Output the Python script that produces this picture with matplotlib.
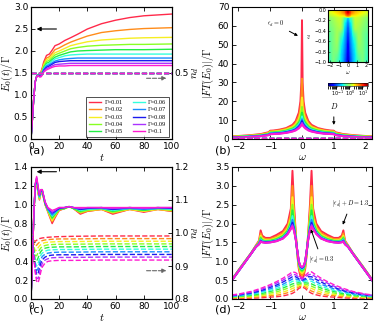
import numpy as np
import matplotlib
matplotlib.use('Agg')
import matplotlib.pyplot as plt
from matplotlib.colors import LogNorm

plt.rcParams['mathtext.fontset'] = 'cm'
plt.rcParams['font.size'] = 6.5

gammas = [0.01, 0.02, 0.03, 0.04, 0.05, 0.06, 0.07, 0.08, 0.09, 0.1]
colors = ['#ff2a4a', '#ff8c1a', '#f6ee22', '#88ff22', '#22ee44',
          '#33ffdd', '#1a8cff', '#1a1aee', '#aa33ff', '#ff1ad0']

# (a) E0(t)/Gamma, eps_d = 0
t_a = [0, 1, 2, 3, 4, 5, 6, 7, 8, 9, 11, 13, 15, 17, 20, 24, 28, 33, 40, 50, 60, 70, 80, 100]
e0_a = [
    [0, 0.45, 0.95, 1.30, 1.42, 1.46, 1.48, 1.52, 1.62, 1.75, 1.90, 1.93, 2.02, 2.12, 2.16, 2.24, 2.30, 2.38, 2.50, 2.62, 2.70, 2.76, 2.80, 2.84],
    [0, 0.45, 0.95, 1.30, 1.42, 1.46, 1.47, 1.50, 1.59, 1.71, 1.84, 1.87, 1.95, 2.03, 2.07, 2.14, 2.20, 2.26, 2.34, 2.42, 2.46, 2.49, 2.51, 2.53],
    [0, 0.45, 0.95, 1.30, 1.42, 1.46, 1.47, 1.49, 1.57, 1.68, 1.80, 1.83, 1.90, 1.96, 2.00, 2.06, 2.12, 2.16, 2.21, 2.25, 2.27, 2.29, 2.30, 2.31],
    [0, 0.45, 0.95, 1.30, 1.42, 1.46, 1.46, 1.48, 1.55, 1.65, 1.76, 1.79, 1.85, 1.91, 1.95, 2.00, 2.05, 2.08, 2.11, 2.13, 2.14, 2.15, 2.15, 2.16],
    [0, 0.45, 0.95, 1.30, 1.42, 1.46, 1.45, 1.47, 1.53, 1.62, 1.72, 1.75, 1.81, 1.86, 1.90, 1.94, 1.98, 2.00, 2.01, 2.02, 2.03, 2.03, 2.03, 2.04],
    [0, 0.45, 0.95, 1.30, 1.42, 1.45, 1.45, 1.46, 1.52, 1.60, 1.69, 1.72, 1.77, 1.82, 1.85, 1.89, 1.91, 1.92, 1.93, 1.93, 1.93, 1.93, 1.93, 1.93],
    [0, 0.45, 0.95, 1.30, 1.42, 1.45, 1.44, 1.45, 1.50, 1.58, 1.66, 1.69, 1.73, 1.77, 1.80, 1.82, 1.83, 1.84, 1.84, 1.84, 1.84, 1.84, 1.84, 1.84],
    [0, 0.45, 0.95, 1.30, 1.42, 1.45, 1.43, 1.44, 1.49, 1.56, 1.63, 1.66, 1.70, 1.74, 1.76, 1.77, 1.78, 1.78, 1.78, 1.78, 1.78, 1.78, 1.78, 1.78],
    [0, 0.45, 0.95, 1.30, 1.42, 1.44, 1.42, 1.43, 1.47, 1.54, 1.60, 1.63, 1.66, 1.69, 1.70, 1.71, 1.72, 1.72, 1.72, 1.72, 1.72, 1.72, 1.72, 1.72],
    [0, 0.45, 0.95, 1.30, 1.42, 1.44, 1.41, 1.41, 1.45, 1.52, 1.57, 1.60, 1.63, 1.65, 1.66, 1.66, 1.67, 1.67, 1.67, 1.67, 1.67, 1.67, 1.67, 1.67],
]
nd_a = 0.5

# (b) |FT(E0)|/Gamma, positive omega side (spectrum is symmetric)
w_b = [0, 0.02, 0.05, 0.1, 0.2, 0.3, 0.5, 0.7, 0.9, 1.0, 1.05, 1.3, 1.7, 2.2]
ft_b = [
    [63, 30, 20, 14, 9.5, 7.5, 5.8, 5.0, 4.5, 4.4, 3.6, 2.6, 1.9, 1.4],
    [32, 22, 16, 12, 8.5, 6.8, 5.4, 4.6, 4.2, 4.1, 3.3, 2.4, 1.8, 1.3],
    [22, 17, 13.5, 10.5, 7.7, 6.3, 5.0, 4.3, 3.9, 3.8, 3.0, 2.2, 1.6, 1.2],
    [17, 14, 11.5, 9.4, 7.0, 5.8, 4.6, 4.0, 3.6, 3.5, 2.8, 2.0, 1.5, 1.1],
    [14, 12, 10, 8.5, 6.4, 5.3, 4.3, 3.7, 3.4, 3.3, 2.6, 1.9, 1.4, 1.0],
    [12, 10.5, 9.0, 7.7, 5.9, 5.0, 4.0, 3.4, 3.2, 3.1, 2.4, 1.8, 1.3, 0.95],
    [10.5, 9.3, 8.2, 7.0, 5.4, 4.6, 3.7, 3.2, 3.0, 2.9, 2.3, 1.7, 1.2, 0.9],
    [9.5, 8.5, 7.5, 6.5, 5.0, 4.3, 3.5, 3.0, 2.8, 2.7, 2.2, 1.6, 1.1, 0.8],
    [8.5, 7.8, 7.0, 6.0, 4.7, 4.1, 3.3, 2.9, 2.7, 2.6, 2.1, 1.5, 1.05, 0.75],
    [7.7, 7.2, 6.5, 5.6, 4.5, 3.9, 3.2, 2.8, 2.6, 2.5, 2.0, 1.4, 1.0, 0.7],
]
ftnd_b = 0.3

# inset of (b): log10 |FT(E0)|, rows eps_d = 0 .. -1, columns omega = -2 .. 2
w_in = [-2.0, -1.6, -1.2, -0.8, -0.4, 0, 0.4, 0.8, 1.2, 1.6, 2.0]
eps_in = [-0.05, -0.15, -0.25, -0.35, -0.45, -0.55, -0.65, -0.75, -0.85, -0.95]
heat_log = [
    [0.2, 0.3, 0.4, 0.5, 0.7, 1.2, 0.7, 0.5, 0.4, 0.3, 0.2],
    [-0.1, 0.0, 0.1, 0.15, -0.3, -0.8, -0.3, 0.15, 0.1, 0.0, -0.1],
    [-0.15, -0.05, 0.05, 0.1, -0.5, -1.0, -0.5, 0.1, 0.05, -0.05, -0.15],
    [-0.2, -0.1, 0.0, 0.05, -0.6, -1.15, -0.6, 0.05, 0.0, -0.1, -0.2],
    [-0.25, -0.15, 0.0, -0.2, -0.7, -1.25, -0.7, -0.2, 0.0, -0.15, -0.25],
    [-0.3, -0.15, 0.0, -0.4, -0.75, -1.35, -0.75, -0.4, 0.0, -0.15, -0.3],
    [-0.3, -0.15, -0.05, -0.5, -0.8, -1.45, -0.8, -0.5, -0.05, -0.15, -0.3],
    [-0.35, -0.15, -0.1, -0.55, -0.85, -1.5, -0.85, -0.55, -0.1, -0.15, -0.35],
    [-0.35, -0.15, -0.2, -0.6, -0.9, -1.55, -0.9, -0.6, -0.2, -0.15, -0.35],
    [-0.4, -0.15, -0.3, -0.6, -0.95, -1.6, -0.95, -0.6, -0.3, -0.15, -0.4],
]

# (c) E0(t)/Gamma and n_d(t), eps_d = -0.3
t_c = [0, 1, 2, 3, 4, 5, 6, 7, 8, 10, 12, 14, 15, 17, 20, 24, 27, 30, 35, 40, 50, 58, 70, 80, 90, 100]
e0_c = [
    [0, 0.40, 0.90, 1.18, 1.22, 1.12, 1.05, 1.12, 1.13, 1.00, 0.92, 0.84, 0.80, 0.86, 0.94, 0.96, 0.98, 0.96, 0.90, 0.93, 0.95, 0.90, 0.95, 0.92, 0.95, 0.93],
    [0, 0.40, 0.90, 1.18, 1.23, 1.13, 1.06, 1.12, 1.13, 1.00, 0.93, 0.85, 0.82, 0.87, 0.94, 0.96, 0.98, 0.96, 0.91, 0.93, 0.95, 0.91, 0.95, 0.93, 0.95, 0.93],
    [0, 0.40, 0.90, 1.19, 1.24, 1.14, 1.06, 1.13, 1.14, 1.01, 0.93, 0.86, 0.83, 0.88, 0.95, 0.96, 0.98, 0.96, 0.92, 0.94, 0.95, 0.92, 0.95, 0.93, 0.95, 0.94],
    [0, 0.40, 0.90, 1.19, 1.25, 1.15, 1.07, 1.13, 1.14, 1.01, 0.94, 0.88, 0.85, 0.89, 0.95, 0.96, 0.98, 0.96, 0.92, 0.94, 0.96, 0.92, 0.96, 0.94, 0.96, 0.94],
    [0, 0.40, 0.90, 1.20, 1.26, 1.16, 1.08, 1.14, 1.14, 1.01, 0.94, 0.89, 0.86, 0.90, 0.95, 0.96, 0.98, 0.96, 0.93, 0.95, 0.96, 0.93, 0.96, 0.94, 0.96, 0.95],
    [0, 0.40, 0.90, 1.20, 1.26, 1.16, 1.08, 1.14, 1.15, 1.02, 0.95, 0.90, 0.88, 0.91, 0.96, 0.97, 0.98, 0.97, 0.94, 0.95, 0.96, 0.94, 0.96, 0.95, 0.96, 0.95],
    [0, 0.40, 0.90, 1.21, 1.27, 1.17, 1.09, 1.15, 1.15, 1.02, 0.95, 0.91, 0.89, 0.92, 0.96, 0.97, 0.98, 0.97, 0.95, 0.96, 0.96, 0.95, 0.96, 0.95, 0.96, 0.96],
    [0, 0.40, 0.90, 1.21, 1.28, 1.18, 1.10, 1.15, 1.15, 1.02, 0.96, 0.93, 0.91, 0.93, 0.96, 0.97, 0.98, 0.97, 0.95, 0.96, 0.97, 0.95, 0.97, 0.96, 0.97, 0.96],
    [0, 0.40, 0.90, 1.22, 1.29, 1.19, 1.10, 1.16, 1.16, 1.03, 0.96, 0.94, 0.92, 0.94, 0.97, 0.97, 0.98, 0.97, 0.96, 0.97, 0.97, 0.96, 0.97, 0.96, 0.97, 0.97],
    [0, 0.40, 0.90, 1.22, 1.30, 1.20, 1.11, 1.16, 1.16, 1.03, 0.97, 0.95, 0.94, 0.95, 0.97, 0.97, 0.98, 0.97, 0.97, 0.97, 0.97, 0.97, 0.97, 0.97, 0.97, 0.97],
]
t_nd = [0, 1, 2, 3, 4, 5, 6, 7, 8, 10, 12, 15, 20, 30, 50, 100]
nd_c = [
    [1.000, 0.990, 0.976, 0.975, 0.978, 0.981, 0.983, 0.984, 0.985, 0.986, 0.987, 0.988, 0.989, 0.990, 0.991, 0.991],
    [1.000, 0.988, 0.968, 0.960, 0.963, 0.968, 0.972, 0.975, 0.977, 0.979, 0.980, 0.981, 0.982, 0.982, 0.983, 0.983],
    [1.000, 0.986, 0.960, 0.946, 0.948, 0.955, 0.961, 0.965, 0.968, 0.971, 0.972, 0.973, 0.974, 0.974, 0.975, 0.975],
    [1.000, 0.985, 0.953, 0.932, 0.931, 0.940, 0.949, 0.955, 0.959, 0.962, 0.964, 0.965, 0.966, 0.966, 0.967, 0.967],
    [1.000, 0.984, 0.947, 0.920, 0.915, 0.924, 0.936, 0.944, 0.949, 0.954, 0.956, 0.957, 0.958, 0.958, 0.959, 0.959],
    [1.000, 0.983, 0.942, 0.910, 0.900, 0.908, 0.922, 0.933, 0.939, 0.945, 0.948, 0.949, 0.950, 0.950, 0.951, 0.951],
    [1.000, 0.982, 0.938, 0.901, 0.886, 0.892, 0.908, 0.921, 0.929, 0.936, 0.939, 0.941, 0.942, 0.942, 0.943, 0.943],
    [1.000, 0.981, 0.934, 0.893, 0.874, 0.877, 0.893, 0.909, 0.919, 0.927, 0.931, 0.933, 0.934, 0.934, 0.935, 0.935],
    [1.000, 0.980, 0.931, 0.886, 0.863, 0.862, 0.878, 0.896, 0.908, 0.918, 0.922, 0.925, 0.926, 0.926, 0.927, 0.927],
    [1.000, 0.979, 0.928, 0.880, 0.854, 0.849, 0.863, 0.883, 0.897, 0.909, 0.914, 0.916, 0.917, 0.917, 0.918, 0.918],
]

# (d) |FT(E0)|/Gamma and |FT(n_d)|, positive omega side
w_d = [0, 0.05, 0.1, 0.15, 0.2, 0.25, 0.3, 0.35, 0.45, 0.6, 0.8, 1.0, 1.15, 1.25, 1.3, 1.35, 1.45, 1.6, 1.9, 2.2]
ft_d = [
    [0.55, 0.60, 0.80, 1.20, 1.80, 2.50, 3.40, 2.40, 2.00, 1.80, 1.70, 1.62, 1.62, 1.68, 1.82, 1.55, 1.42, 1.22, 0.88, 0.52],
    [0.63, 0.68, 0.85, 1.23, 1.75, 2.31, 3.00, 2.25, 1.92, 1.75, 1.65, 1.59, 1.59, 1.63, 1.74, 1.52, 1.41, 1.21, 0.87, 0.51],
    [0.69, 0.73, 0.89, 1.25, 1.71, 2.17, 2.70, 2.14, 1.87, 1.71, 1.62, 1.56, 1.56, 1.60, 1.68, 1.50, 1.40, 1.21, 0.87, 0.51],
    [0.73, 0.77, 0.92, 1.26, 1.68, 2.07, 2.50, 2.07, 1.83, 1.68, 1.60, 1.55, 1.54, 1.57, 1.64, 1.49, 1.40, 1.21, 0.86, 0.51],
    [0.76, 0.80, 0.94, 1.27, 1.66, 2.00, 2.35, 2.01, 1.80, 1.66, 1.58, 1.54, 1.53, 1.55, 1.61, 1.48, 1.39, 1.21, 0.86, 0.51],
    [0.79, 0.83, 0.96, 1.28, 1.64, 1.93, 2.20, 1.96, 1.77, 1.64, 1.56, 1.52, 1.52, 1.53, 1.58, 1.47, 1.39, 1.20, 0.86, 0.50],
    [0.81, 0.85, 0.98, 1.29, 1.62, 1.88, 2.10, 1.92, 1.75, 1.62, 1.55, 1.51, 1.51, 1.52, 1.56, 1.46, 1.38, 1.20, 0.85, 0.50],
    [0.83, 0.86, 0.99, 1.29, 1.61, 1.85, 2.02, 1.89, 1.74, 1.61, 1.54, 1.51, 1.50, 1.51, 1.54, 1.46, 1.38, 1.20, 0.85, 0.50],
    [0.84, 0.87, 0.99, 1.30, 1.61, 1.82, 1.96, 1.87, 1.73, 1.61, 1.54, 1.50, 1.49, 1.51, 1.53, 1.45, 1.38, 1.20, 0.85, 0.50],
    [0.85, 0.88, 1.00, 1.30, 1.60, 1.80, 1.92, 1.85, 1.72, 1.60, 1.53, 1.50, 1.49, 1.50, 1.52, 1.45, 1.38, 1.20, 0.85, 0.50],
]
w_dn = [0, 0.1, 0.2, 0.3, 0.4, 0.6, 0.8, 1.0, 1.3, 1.6, 2.0, 2.2]
ftnd_d = [
    [0.32, 0.28, 0.20, 0.15, 0.12, 0.08, 0.06, 0.05, 0.03, 0.02, 0.02, 0.02],
    [0.35, 0.32, 0.26, 0.21, 0.18, 0.13, 0.10, 0.09, 0.06, 0.04, 0.03, 0.03],
    [0.37, 0.36, 0.31, 0.28, 0.24, 0.18, 0.15, 0.12, 0.09, 0.06, 0.04, 0.04],
    [0.40, 0.39, 0.37, 0.34, 0.30, 0.24, 0.19, 0.16, 0.11, 0.08, 0.06, 0.05],
    [0.42, 0.43, 0.42, 0.40, 0.36, 0.29, 0.24, 0.20, 0.14, 0.10, 0.07, 0.06],
    [0.45, 0.47, 0.48, 0.47, 0.42, 0.34, 0.28, 0.23, 0.17, 0.12, 0.08, 0.07],
    [0.47, 0.51, 0.53, 0.53, 0.48, 0.39, 0.33, 0.27, 0.20, 0.14, 0.09, 0.08],
    [0.50, 0.54, 0.59, 0.59, 0.54, 0.45, 0.37, 0.31, 0.22, 0.16, 0.11, 0.09],
    [0.52, 0.58, 0.64, 0.66, 0.60, 0.50, 0.42, 0.34, 0.25, 0.18, 0.12, 0.10],
    [0.55, 0.62, 0.70, 0.72, 0.66, 0.55, 0.46, 0.38, 0.28, 0.20, 0.13, 0.11],
]


def mirror(w, v):
    # spectra were read for omega >= 0 only, they are symmetric in omega
    w = np.asarray(w)
    v = np.asarray(v)
    return np.r_[-w[:0:-1], w], np.r_[v[:0:-1], v]


def style(ax, right=True):
    ax.tick_params(direction='in', top=True, right=right, length=3, width=0.6,
                   labelsize=6.5, pad=2)
    for s in ax.spines.values():
        s.set_linewidth(0.8)


fig = plt.figure(figsize=(3.74, 3.25), dpi=100)
W, H = 374.0, 325.0
ax_a = fig.add_axes([31 / W, 1 - 139 / H, 141 / W, 132 / H])
ax_b = fig.add_axes([232 / W, 1 - 139 / H, 140 / W, 132 / H])
ax_c = fig.add_axes([31 / W, 1 - 299 / H, 141 / W, 132 / H])
ax_d = fig.add_axes([232 / W, 1 - 299 / H, 140 / W, 132 / H])

# ---- (a)
for g, c, y in zip(gammas, colors, e0_a):
    ax_a.plot(t_a, y, color=c, lw=1.0, label='\u0393=%g' % g)
ax_a.set_xlim(0, 100)
ax_a.set_ylim(0, 3)
ax_a.set_xticks([0, 20, 40, 60, 80, 100])
ax_a.set_yticks(np.arange(0, 3.01, 0.5))
ax_a.set_xlabel(r'$t$', fontsize=8, labelpad=1)
ax_a.set_ylabel(r'$E_0(t)/\Gamma$', fontsize=7.5)
ax_a.yaxis.set_label_coords(-0.115, 0.5)
style(ax_a, right=False)
ax_a.annotate('', xy=(2, 2.5), xytext=(20, 2.5),
              arrowprops=dict(arrowstyle='-|>', color='k', lw=0.8, mutation_scale=6))
ax_a.annotate('', xy=(98, 1.38), xytext=(80, 1.38),
              arrowprops=dict(arrowstyle='-|>', color='0.4', lw=0.8, ls='--', mutation_scale=6))
leg = ax_a.legend(ncol=2, loc='lower right', bbox_to_anchor=(0.98, 0.015),
                  prop={'family': 'Liberation Serif', 'size': 4.5},
                  borderaxespad=0, frameon=True, fancybox=False, edgecolor='k',
                  handlelength=2.0, handletextpad=0.5, columnspacing=1.6,
                  labelspacing=0.3, borderpad=0.45)
leg.get_frame().set_linewidth(0.6)
tw_a = ax_a.twinx()
for c in colors:
    tw_a.plot([0, 100], [nd_a, nd_a], color=c, lw=1.0, ls='--')
tw_a.set_ylim(0, 1)
tw_a.set_yticks([0.5])
tw_a.tick_params(direction='in', length=3, width=0.6, labelsize=6.5, pad=2)
tw_a.set_ylabel(r'$n_d$', fontsize=8)
tw_a.yaxis.set_label_coords(1.13, 0.5)

# ---- (b)
for c, y in zip(colors, ft_b):
    w, v = mirror(w_b, y)
    ax_b.plot(w, v, color=c, lw=1.4)
for c in colors:
    ax_b.plot([-2.2, 2.2], [ftnd_b, ftnd_b], color=c, lw=1.0, ls='--')
ax_b.set_xlim(-2.2, 2.2)
ax_b.set_ylim(0, 70)
ax_b.set_xticks([-2, -1, 0, 1, 2])
ax_b.set_yticks(range(0, 71, 10))
ax_b.set_xlabel(r'$\omega$', fontsize=8, labelpad=1)
ax_b.set_ylabel(r'$|FT(E_0)|/\Gamma$', fontsize=7.5)
ax_b.yaxis.set_label_coords(-0.115, 0.5)
style(ax_b)
ax_b.annotate(r'$\epsilon_d=0$', xy=(-0.05, 54), xytext=(-1.1, 60), fontsize=4.5,
              arrowprops=dict(arrowstyle='-|>', color='k', lw=0.7, mutation_scale=4))
ax_b.annotate(r'$D$', xy=(1.0, 6), xytext=(1.0, 20), fontsize=5.5, ha='center', va='top',
              arrowprops=dict(arrowstyle='-|>', color='k', lw=0.7, mutation_scale=4))

ax_in = fig.add_axes([328 / W, 1 - 62 / H, 40 / W, 52 / H])
im = ax_in.imshow(10 ** np.array(heat_log), extent=[-2.2, 2.2, -1, 0], aspect='auto',
                  cmap='jet', norm=LogNorm(vmin=0.02, vmax=25), interpolation='bilinear')
ax_in.set_xticks([-2, -1, 0, 1, 2])
ax_in.set_yticks([0, -0.2, -0.4, -0.6, -0.8, -1.0])
ax_in.tick_params(direction='in', labelsize=3.5, length=1.5, width=0.4, pad=1)
ax_in.set_xlabel(r'$\omega$', fontsize=4, labelpad=0.5)
ax_in.set_ylabel(r'$\epsilon_d$', fontsize=4, labelpad=0.5)
cax = fig.add_axes([328 / W, 1 - 86 / H, 40 / W, 3 / H])
cb = fig.colorbar(im, cax=cax, orientation='horizontal', ticks=[0.1, 1, 10])
cb.ax.tick_params(labelsize=3.5, length=1, width=0.4, pad=1)
cb.outline.set_linewidth(0.4)

# ---- (c)
for c, y in zip(colors, e0_c):
    ax_c.plot(t_c, y, color=c, lw=1.0)
ax_c.set_xlim(0, 100)
ax_c.set_ylim(0, 1.4)
ax_c.set_xticks([0, 20, 40, 60, 80, 100])
ax_c.set_yticks(np.arange(0, 1.41, 0.2))
ax_c.set_xlabel(r'$t$', fontsize=8, labelpad=1)
ax_c.set_ylabel(r'$E_0(t)/\Gamma$', fontsize=7.5)
ax_c.yaxis.set_label_coords(-0.115, 0.5)
style(ax_c, right=False)
ax_c.annotate('', xy=(2, 1.35), xytext=(20, 1.35),
              arrowprops=dict(arrowstyle='-|>', color='k', lw=0.8, mutation_scale=6))
ax_c.annotate('', xy=(98, 0.3), xytext=(80, 0.3),
              arrowprops=dict(arrowstyle='-|>', color='0.4', lw=0.8, ls='--', mutation_scale=6))
tw_c = ax_c.twinx()
for c, y in zip(colors, nd_c):
    tw_c.plot(t_nd, y, color=c, lw=1.0, ls='--')
tw_c.set_ylim(0.8, 1.2)
tw_c.set_yticks([0.8, 0.9, 1.0, 1.1, 1.2])
tw_c.tick_params(direction='in', length=3, width=0.6, labelsize=6.5, pad=2)
tw_c.set_ylabel(r'$n_d$', fontsize=8)
tw_c.yaxis.set_label_coords(1.13, 0.5)

# ---- (d)
for c, y in zip(colors, ft_d):
    w, v = mirror(w_d, y)
    ax_d.plot(w, v, color=c, lw=1.4)
for c, y in zip(colors, ftnd_d):
    w, v = mirror(w_dn, y)
    ax_d.plot(w, v, color=c, lw=1.0, ls='--')
ax_d.set_xlim(-2.2, 2.2)
ax_d.set_ylim(0, 3.5)
ax_d.set_xticks([-2, -1, 0, 1, 2])
ax_d.set_yticks(np.arange(0, 3.51, 0.5))
ax_d.set_xlabel(r'$\omega$', fontsize=8, labelpad=1)
ax_d.set_ylabel(r'$|FT(E_0)|/\Gamma$', fontsize=7.5)
ax_d.yaxis.set_label_coords(-0.115, 0.5)
style(ax_d)
ax_d.annotate(r'$|\epsilon_d|+D=1.3$', xy=(1.25, 1.9), xytext=(0.95, 2.5), fontsize=4.5,
              arrowprops=dict(arrowstyle='-|>', color='k', lw=0.7, mutation_scale=4))
ax_d.annotate(r'$|\epsilon_d|=0.3$', xy=(0.25, 1.92), xytext=(0.22, 1.0), fontsize=4.5,
              arrowprops=dict(arrowstyle='-|>', color='k', lw=0.7, mutation_scale=4))

for lab, x, y in [('(a)', 29, 153), ('(b)', 215, 153), ('(c)', 29, 313), ('(d)', 215, 313)]:
    fig.text(x / W, 1 - y / H, lab, fontsize=8, va='baseline')

fig.savefig('out.png', dpi=100)
